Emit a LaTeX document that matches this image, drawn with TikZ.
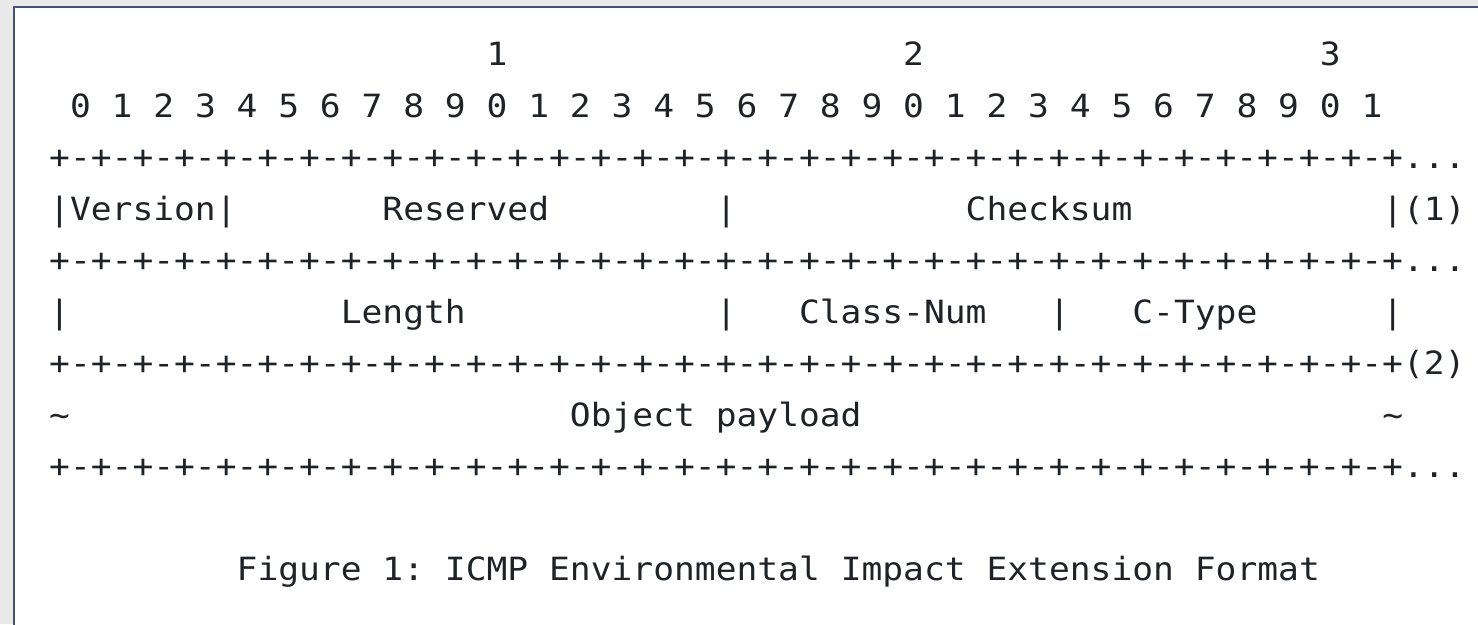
\documentclass[tikz,border=0pt]{standalone}
\usepackage{fontspec}
\setmonofont{DejaVu Sans Mono}[FakeStretch=1.0812]
\definecolor{ink}{HTML}{1F2226}
\definecolor{outerbg}{HTML}{E9E9E9}
\definecolor{frameline}{HTML}{46526F}
\newcommand\cx[1]{49.2+(#1)*20.83}
\newcommand\ry[1]{65.5+(#1)*51.5}
\newcommand\pmq{+-+-+-+-}
\newcommand\plusrow{\pmq\pmq\pmq\pmq\pmq\pmq\pmq\pmq+}
\begin{document}
\begin{tikzpicture}[x=1pt,y=-1pt,
  txt/.style={anchor=base west, inner sep=0pt, outer sep=0pt, text=ink,
    font=\ttfamily\fontsize{32}{38}\selectfont}]
\useasboundingbox (0,0) rectangle (1478,624);
\fill[outerbg] (0,0) rectangle (1478,624);
\draw[frameline, line width=2pt, fill=white] (13.8,6.8) rectangle (1500,650);
% row 0: tens
\node[txt] (t1) at ({\cx{21}},{\ry{0}}) {1};
\node[txt] (t2) at ({\cx{41}},{\ry{0}}) {2};
\node[txt] (t3) at ({\cx{61}},{\ry{0}}) {3};
% row 1: units
\foreach \k in {0,...,31}{
  \pgfmathtruncatemacro\dg{mod(\k,10)}
  \node[txt] (d\k) at ({\cx{1+2*\k}},{\ry{1}}) {\dg};
}
% row 2
\node[txt] (p1) at ({\cx{0}},{\ry{2}}) {\plusrow...};
% row 3
\node[txt] (ver) at ({\cx{0}},{\ry{3}}) {|Version|};
\node[txt] (res) at ({\cx{16}},{\ry{3}}) {Reserved};
\node[txt] (b3a) at ({\cx{32}},{\ry{3}}) {|};
\node[txt] (chk) at ({\cx{44}},{\ry{3}}) {Checksum};
\node[txt] (b3b) at ({\cx{64}},{\ry{3}}) {|(1)};
% row 4
\node[txt] (p2) at ({\cx{0}},{\ry{4}}) {\plusrow...};
% row 5
\node[txt] (b5a) at ({\cx{0}},{\ry{5}}) {|};
\node[txt] (len) at ({\cx{14}},{\ry{5}}) {Length};
\node[txt] (b5b) at ({\cx{32}},{\ry{5}}) {|};
\node[txt] (cln) at ({\cx{36}},{\ry{5}}) {Class-Num};
\node[txt] (b5c) at ({\cx{48}},{\ry{5}}) {|};
\node[txt] (cty) at ({\cx{52}},{\ry{5}}) {C-Type};
\node[txt] (b5d) at ({\cx{64}},{\ry{5}}) {|};
% row 6
\node[txt] (p3) at ({\cx{0}},{\ry{6}}) {\plusrow(2)};
% row 7
\node[txt] (tla) at ({\cx{0}},{\ry{7}}) {\char`\~};
\node[txt] (obj) at ({\cx{25}},{\ry{7}}) {Object};
\node[txt] (pay) at ({\cx{32}},{\ry{7}}) {payload};
\node[txt] (tlb) at ({\cx{64}},{\ry{7}}) {\char`\~};
% row 8
\node[txt] (p4) at ({\cx{0}},{\ry{8}}) {\plusrow...};
% caption row 10
\node[txt] (c1) at ({\cx{9}},{\ry{10}}) {Figure};
\node[txt] (c2) at ({\cx{16}},{\ry{10}}) {1:};
\node[txt] (c3) at ({\cx{19}},{\ry{10}}) {ICMP};
\node[txt] (c4) at ({\cx{24}},{\ry{10}}) {Environmental};
\node[txt] (c5) at ({\cx{38}},{\ry{10}}) {Impact};
\node[txt] (c6) at ({\cx{45}},{\ry{10}}) {Extension};
\node[txt] (c7) at ({\cx{55}},{\ry{10}}) {Format};
\end{tikzpicture}
\end{document}
